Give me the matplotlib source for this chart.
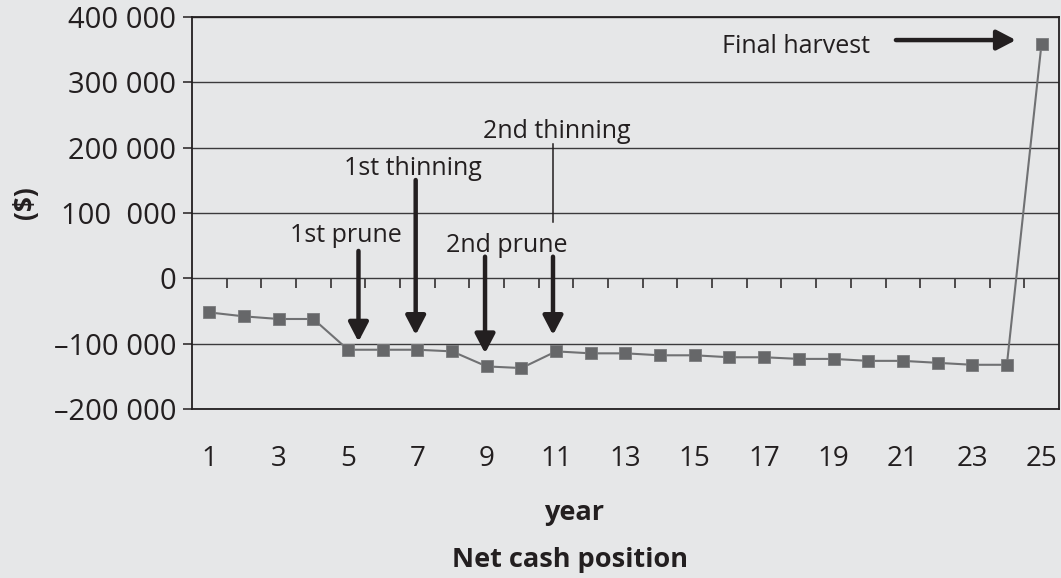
import numpy as np
import matplotlib
matplotlib.use("Agg")
import matplotlib.pyplot as plt
from matplotlib.ticker import FixedLocator, FuncFormatter

plt.rcParams['font.family'] = ['Open Sans', 'DejaVu Sans']

# net cash position per year ($)
years = list(range(1, 26))
net_cash = [-52000, -58000, -62000, -62000, -109000, -109000, -109000, -111500,
            -134500, -137000, -111500, -114500, -114500, -117500, -117500,
            -120500, -120500, -123000, -123000, -126000, -126000, -129000,
            -132000, -132000, 359000]
y_ticks = [400000, 300000, 200000, 100000, 0, -100000, -200000]
x_tick_labels = [str(y) for y in years[::2]]

# management events: label, label position, arrow x, arrow top, arrow tip
events = [
    ("1st prune", (4.93, 66000), 5.3, 42000, -96700),
    ("1st thinning", (6.87, 168700), 6.95, 150400, -86500),
    ("2nd prune", (9.57, 51000), 8.95, 33200, -114500),
]

BG = "#e6e7e8"
INK = "#231f20"


def fmt_money(v, pos=None):
    if v == 0:
        return "0"
    s = "{:,.0f}".format(abs(v)).replace(",", " ")
    if v == 100000:
        s = "100  000"
    return ("\u2013" if v < 0 else "") + s


fig = plt.figure(figsize=(10.61, 5.78), dpi=100, facecolor=BG)
ax = fig.add_axes([0.181, 0.2919, 0.817, 0.6792], facecolor=BG)

ax.plot(years, net_cash, color="#707173", lw=1.5, marker="s", ms=8.5,
        mfc="#666769", mec="#7a7b7d", mew=0.6, zorder=3)

ax.set_xlim(0.5, len(years) + 0.5)
ax.set_ylim(-200000, 400000)

# y axis with gridlines
ax.yaxis.set_major_locator(FixedLocator(y_ticks))
ax.yaxis.set_major_formatter(FuncFormatter(fmt_money))
ax.tick_params(axis="y", direction="out", length=6.3, width=1.1, color=INK,
               labelsize=21, labelcolor=INK, pad=5)
ax.grid(axis="y", color="#3b3a3c", lw=1.0, zorder=1)
ax.set_axisbelow(True)

# category labels below the plot
ax.set_xticks(years[::2])
ax.set_xticklabels(x_tick_labels)
ax.tick_params(axis="x", length=0, labelsize=20, labelcolor=INK, pad=26)

for sp in ax.spines.values():
    sp.set_color(INK)
    sp.set_linewidth(1.3)

# category boundary ticks on the zero line
zero_frac = (0 - ax.get_ylim()[0]) / (ax.get_ylim()[1] - ax.get_ylim()[0])
sec = ax.secondary_xaxis(zero_frac)
sec.set_xticks(np.arange(1.5, len(years), 1.0))
sec.tick_params(axis="x", direction="out", length=7, width=1.1, color=INK,
                labelbottom=False, labeltop=False)
sec.spines["bottom"].set_visible(False)
sec.spines["top"].set_visible(False)

arrow_style = dict(arrowstyle="-|>,head_width=0.6,head_length=1.15",
                   mutation_scale=10, lw=3.2, color=INK,
                   shrinkA=0, shrinkB=0)

for label, (lx, ly), ax_x, top, tip in events:
    ax.text(lx, ly, label, ha="center", va="center", fontsize=18, color=INK,
            zorder=5)
    ax.annotate("", xy=(ax_x, tip), xytext=(ax_x, top),
                arrowprops=arrow_style, zorder=4)

# 2nd thinning: thin leader and arrow at year 11
ax.text(11.02, 224200, "2nd thinning", ha="center", va="center",
        fontsize=18, color=INK, zorder=5)
ax.plot([10.91, 10.91], [205000, 86700], color=INK, lw=1.1, zorder=4)
ax.annotate("", xy=(10.91, -86500), xytext=(10.91, 33200),
            arrowprops=arrow_style, zorder=4)

# final harvest
ax.text(17.92, 353700, "Final harvest", ha="center", va="center",
        fontsize=18, color=INK, zorder=5)
ax.annotate("", xy=(24.26, 364300), xytext=(20.8, 364300),
            arrowprops=arrow_style, zorder=4)

fig.text(0.024, 0.649, "($)", rotation=90, ha="center", va="center",
         fontsize=19, fontweight="bold", color=INK)
fig.text(0.541, 1 - 513 / 578, "year", ha="center", va="center",
         fontsize=19.5, fontweight="bold", color=INK)
fig.text(0.537, 1 - 560 / 578, "Net cash position", ha="center", va="center",
         fontsize=19.5, fontweight="bold", color=INK)

fig.savefig("out.png", dpi=100, facecolor=BG)
